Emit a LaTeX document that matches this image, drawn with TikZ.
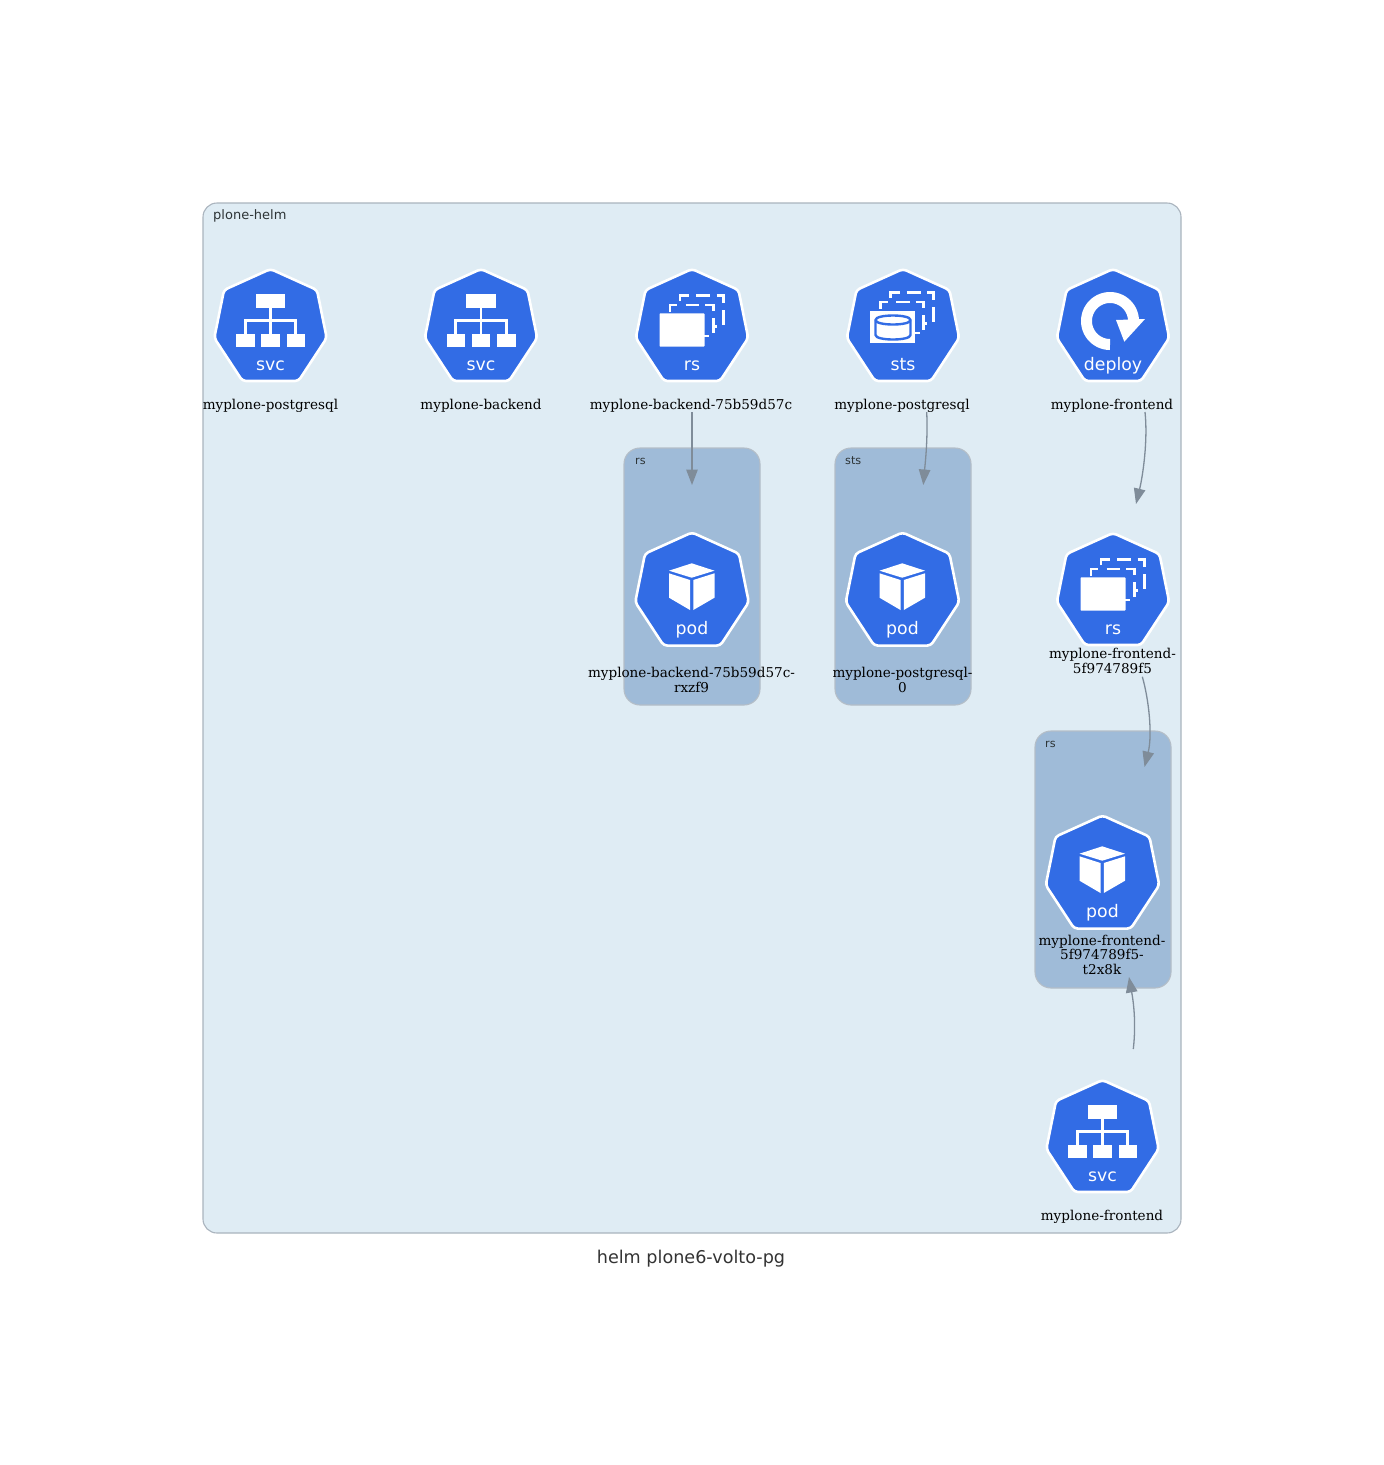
\documentclass[tikz,border=0pt]{standalone}
\usepackage{fontspec}
\usetikzlibrary{arrows.meta}
\newfontfamily\labfont{DejaVu Serif}
\newfontfamily\sanfont{DejaVu Sans}
\definecolor{kblue}{HTML}{326CE5}
\definecolor{outerbg}{HTML}{DFECF4}
\definecolor{outerln}{HTML}{AAB4BE}
\definecolor{innerbg}{HTML}{9FBBD8}
\definecolor{innerln}{HTML}{B4BEC8}
\definecolor{edgec}{HTML}{7F8C99}
\definecolor{clab}{HTML}{2D3436}
\tikzset{
  outerbox/.style={draw=outerln,fill=outerbg,line width=1.1pt,rounded corners=14pt},
  innerbox/.style={draw=innerln,fill=innerbg,line width=1.1pt,rounded corners=16pt},
  heptbody/.style={fill=kblue,draw=white,line width=2.6pt,rounded corners=3.5pt,line join=round},
  lbl/.style={font=\labfont\fontsize{10.55}{11.24}\selectfont,align=center,inner sep=0pt,text=black,scale=1.285},
  clusterlbl/.style={font=\sanfont\fontsize{11.2}{13}\selectfont,text=clab,inner sep=0pt,anchor=base west},
  kindlbl/.style={font=\sanfont\fontsize{17.3}{20}\selectfont,text=white,inner sep=0pt,anchor=base},
  titlelbl/.style={font=\sanfont\fontsize{17.6}{20}\selectfont,text=black!80,inner sep=0pt,anchor=base},
  flow/.style={draw=edgec,line width=1.3pt,-{Triangle[length=15.5pt,width=11.5pt,fill=edgec]}},
  wf/.style={fill=white,draw=none},
  wl/.style={draw=white,line width=2.8pt,line cap=butt,line join=miter},
  bl/.style={draw=kblue,line width=2.4pt},
}
\newcommand{\heptshape}[1]{%
  \path[heptbody,scale=#1] (0,-56)--(46.5,-35)--(56.2,13)--(28,56)--(-28,56)--(-56.2,13)--(-46.5,-35)--cycle;}
\newcommand{\dashlayers}{%
  \draw[wl] (-22,-13.5)--(-22,-20)--(-14.7,-20);
  \draw[wl] (-6.3,-20)--(7,-20);
  \draw[wl] (13,-20)--(21.3,-20)--(21.3,-14);
  \draw[wl] (21.3,-6.7)--(21.3,8.3);
  \draw[wl] (21.3,1.7)--(24.7,1.7);
  \draw[wl] (12,11)--(17,11);
  \draw[wl] (-12,-24)--(-12,-29.3)--(-2.7,-29.3);
  \draw[wl] (4,-29.3)--(18,-29.3);
  \draw[wl] (24.7,-29.3)--(31.3,-29.3)--(31.3,-21.7);
  \draw[wl] (31.3,-15)--(31.3,0);}
\newcommand{\svcicon}{%
  \fill[wf] (-14.7,-30.7) rectangle (14.7,-17.3);
  \fill[wf] (-34.5,9) rectangle (-16,22.3);
  \fill[wf] (-9.2,9) rectangle (9.2,22.3);
  \fill[wf] (16,9) rectangle (34.5,22.3);
  \draw[wl] (0,-17.3)--(0,9);
  \draw[wl] (-25.3,9)--(-25.3,-4.5)--(25.3,-4.5)--(25.3,9);}
\newcommand{\rsicon}{%
  \dashlayers
  \fill[wf,rounded corners=0.8pt] (-32.5,-11.7) rectangle (12.5,21.7);}
\newcommand{\stsicon}{%
  \begin{scope}[shift={(-0.5,-3)}]\dashlayers\end{scope}
  \fill[wf] (-32.7,-14) rectangle (11.7,18.3);
  \draw[bl,fill=white] (-27.5,-5) .. controls (-27.5,-11) and (7.5,-11) .. (7.5,-5)
     -- (7.5,10) .. controls (7.5,16) and (-27.5,16) .. (-27.5,10) -- cycle;
  \draw[bl] (-27.5,-5) .. controls (-27.5,1) and (7.5,1) .. (7.5,-5);}
\newcommand{\podicon}{%
  \fill[wf] (-0.3,-25.7)--(22.5,-18.3)--(-0.3,-11.3)--(-23,-18.3)--cycle;
  \fill[wf] (-23,-15.7)--(-2,-9)--(-2,21)--(-23,8.7)--cycle;
  \fill[wf] (1.3,-9)--(22.5,-15.7)--(22.5,8.7)--(1.3,21)--cycle;}
\newcommand{\deployicon}{%
  \draw[white,line width=11pt] plot[domain=90:362,samples=70] ({-3+23.5*cos(\x)},{-4+23.5*sin(\x)});
  \fill[wf] (3,-5)--(32,-6)--(11.3,16.7)--cycle;}
% #1 x, #2 y, #3 scale, #4 icon, #5 node name, #6 kind text
\newcommand{\kube}[6]{%
  \begin{scope}[shift={(#1,#2)}]
    \heptshape{#3}
    #4
    \node[kindlbl] (#5) at (0,45.3) {#6};
  \end{scope}}
\begin{document}
\begin{tikzpicture}[x=1pt,y=-1pt]
\useasboundingbox (0,0) rectangle (1384,1465);
\fill[white] (0,0) rectangle (1384,1465);
% clusters
\path[outerbox] (203,203) rectangle (1181,1233);
\node[clusterlbl,font=\sanfont\fontsize{13}{15}\selectfont] (helm) at (213,219) {plone-helm};
\path[innerbox] (624,448) rectangle (760,705);
\path[innerbox] (835,448) rectangle (971,705);
\path[innerbox] (1035,731) rectangle (1171,988);
\node[clusterlbl] (c1) at (635,464) {rs};
\node[clusterlbl] (c2) at (845,464) {sts};
\node[clusterlbl] (c3) at (1045,747) {rs};
% icons
\kube{270.5}{325}{1}{\svcicon}{k1}{svc}
\kube{481}{325}{1}{\svcicon}{k2}{svc}
\kube{692}{325}{1}{\rsicon}{k3}{rs}
\kube{903}{325}{1}{\stsicon}{k4}{sts}
\kube{1113}{325}{1}{\deployicon}{k5}{deploy}
\kube{692}{589}{1.01}{\podicon}{k6}{pod}
\kube{902.5}{589}{1.01}{\podicon}{k7}{pod}
\kube{1113}{589}{1}{\rsicon}{k8}{rs}
\kube{1102.5}{872}{1.01}{\podicon}{k9}{pod}
\kube{1102.5}{1136}{1}{\svcicon}{k10}{svc}
% labels
\node[lbl] (l1) at (270.5,406) {myplone-postgresql};
\node[lbl] (l2) at (481,406) {myplone-backend};
\node[lbl] (l3) at (691,406) {myplone-backend-75b59d57c};
\node[lbl] (l4) at (902,406) {myplone-postgresql};
\node[lbl] (l5) at (1112,406) {myplone-frontend};
\node[lbl] (l6) at (691.5,680) {myplone-backend-75b59d57c-\\rxzf9};
\node[lbl] (l7) at (902.5,680) {myplone-postgresql-\\0};
\node[lbl] (l8) at (1112.5,661) {myplone-frontend-\\5f974789f5};
\node[lbl] (l9) at (1102,954.5) {myplone-frontend-\\5f974789f5-\\t2x8k};
\node[lbl] (l10) at (1102,1217) {myplone-frontend};
\node[titlelbl] (title) at (691,1263) {helm plone6-volto-pg};
% connector ends
\coordinate (a1) at (692,412); \coordinate (b1) at (692,485);
\coordinate (a2) at (926.7,412); \coordinate (b2) at (923.3,485);
\coordinate (a3) at (1145,412); \coordinate (b3) at (1136,504);
\coordinate (a4) at (1142.3,676.7); \coordinate (b4) at (1144.5,767);
\coordinate (a5) at (1133.3,1049); \coordinate (b5) at (1129,977);
\draw[flow] (a1) -- (b1);
\draw[flow] (a2) .. controls (928,440) and (925,465) .. (b2);
\draw[flow] (a3) .. controls (1148,440) and (1143,475) .. (b3);
\draw[flow] (a4) .. controls (1149,700) and (1152.5,735) .. (b4);
\draw[flow] (a5) .. controls (1136,1025) and (1134,1005) .. (b5);
\end{tikzpicture}
\end{document}
